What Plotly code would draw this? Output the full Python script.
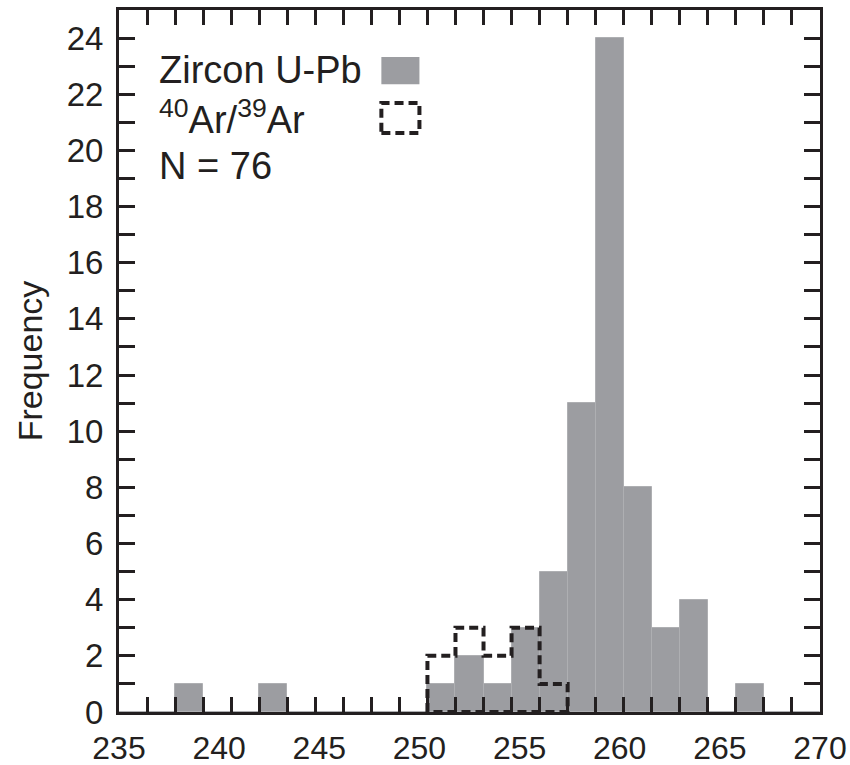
import plotly.graph_objects as go

# Data
bin_start = 235.0
bin_width = 1.4
n_bins = 25
zircon_counts = [0, 0, 1, 0, 0, 1, 0, 0, 0, 0, 0,
                 1, 2, 1, 3, 5, 11, 24, 8, 3, 4, 0, 1, 0, 0]
arar_counts = [0, 0, 0, 0, 0, 0, 0, 0, 0, 0, 0,
               2, 3, 2, 3, 1, 0, 0, 0, 0, 0, 0, 0, 0, 0]
x_tick_labels = [235, 240, 245, 250, 255, 260, 265, 270]
y_tick_labels = list(range(0, 25, 2))

edges = [bin_start + i * bin_width for i in range(n_bins + 1)]
centers = [bin_start + (i + 0.5) * bin_width for i in range(n_bins)]

INK = "#231f20"
GRAY = "#9c9da1"
FONT = "Liberation Sans, Arial, sans-serif"

fig = go.Figure()

fig.add_trace(go.Bar(
    x=centers, y=zircon_counts, width=bin_width,
    marker=dict(color=GRAY, line=dict(color="#aeafb2", width=1)),
    showlegend=False,
))

# step outline for Ar/Ar (closed polygon)
nz = [i for i, c in enumerate(arar_counts) if c > 0]
i0, i1 = nz[0], nz[-1]
ox, oy = [edges[i0]], [0]
for i in range(i0, i1 + 1):
    ox += [edges[i], edges[i + 1]]
    oy += [arar_counts[i], arar_counts[i]]
ox += [edges[i1 + 1], edges[i0]]
oy += [0, 0]
fig.add_trace(go.Scatter(
    x=ox, y=oy, mode="lines",
    line=dict(color=INK, width=4, dash="9px,5px"),
    showlegend=False, hoverinfo="skip",
))

axis_common = dict(
    showgrid=False, zeroline=False, showline=True, linecolor=INK,
    linewidth=3, mirror="allticks", tickcolor=INK, automargin=False,
)

fig.update_xaxes(
    range=[235, 270], tickmode="array", tickvals=x_tick_labels,
    ticktext=[str(v) for v in x_tick_labels],
    ticks="inside", ticklen=0, tickwidth=3,
    minor=dict(tickmode="linear", tick0=bin_start, dtick=bin_width,
               ticks="inside", ticklen=15, tickwidth=3, tickcolor=INK),
    ticklabelstandoff=6,
    tickfont=dict(family=FONT, size=32, color=INK),
    **axis_common,
)
fig.update_yaxes(
    range=[0, 25], tickmode="array", tickvals=y_tick_labels,
    ticktext=[str(v) for v in y_tick_labels],
    ticks="inside", ticklen=16, tickwidth=3,
    minor=dict(tickmode="linear", tick0=0, dtick=1,
               ticks="inside", ticklen=16, tickwidth=3, tickcolor=INK),
    ticklabelstandoff=6,
    tickfont=dict(family=FONT, size=33, color=INK),
    title=dict(text="Frequency", font=dict(family=FONT, size=34, color=INK),
               standoff=14),
    **axis_common,
)

# legend drawn as annotations + shapes
fig.add_annotation(x=236.9, y=22.85, text="Zircon U-Pb", showarrow=False,
                   xanchor="left", yanchor="middle",
                   font=dict(family=FONT, size=38, color=INK))
fig.add_annotation(x=236.9, y=21.2, text="<sup>40</sup>Ar/<sup>39</sup>Ar",
                   showarrow=False, xanchor="left", yanchor="middle",
                   font=dict(family=FONT, size=38, color=INK))
fig.add_annotation(x=236.9, y=19.45, text="N = 76", showarrow=False,
                   xanchor="left", yanchor="middle",
                   font=dict(family=FONT, size=38, color=INK))
fig.add_shape(type="rect", x0=248.1, x1=250.0, y0=22.36, y1=23.33,
              fillcolor=GRAY, line=dict(width=0))
fig.add_shape(type="rect", x0=248.1, x1=250.0, y0=20.62, y1=21.69,
              line=dict(color=INK, width=4, dash="9px,5px"))

fig.update_layout(
    width=850, height=765,
    margin=dict(l=119, r=30, t=10, b=53),
    plot_bgcolor="white", paper_bgcolor="white",
    bargap=0, showlegend=False,
    font=dict(family=FONT, color=INK),
)

fig.write_html("out.html")
